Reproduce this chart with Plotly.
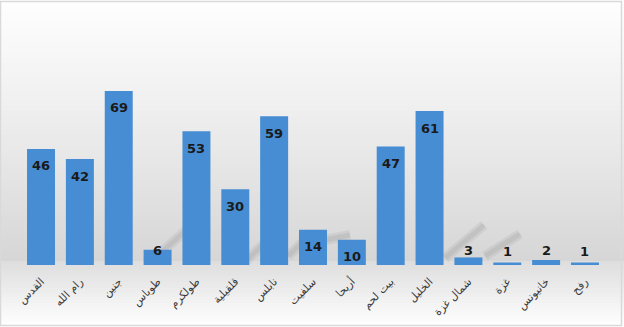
import plotly.graph_objects as go

categories = ["القدس", "رام الله", "جنين", "طوباس", "طولكرم", "قلقيلية", "نابلس", "سلفيت",
              "أريحا", "بيت لحم", "الخليل", "شمال غزة", "غزة", "خانيونس", "رفح"]
values = [46, 42, 69, 6, 53, 30, 59, 14, 10, 47, 61, 3, 1, 2, 1]

W, H = 624, 327
base_px = 265
top_px = 20
ymax = 97.1
px_per_unit = (base_px - top_px) / ymax

fig = go.Figure()
fig.add_trace(go.Bar(
    x=categories, y=values,
    marker=dict(color="#468dd3", line=dict(width=0)),
    width=0.72,
    hoverinfo="x+y",
))

def lerp(a, b, t):
    return int(round(a + (b - a) * t))

shapes = []
step = 3
for y0 in range(0, H, step):
    y1 = min(H, y0 + step)
    ym = (y0 + y1) / 2
    if ym < 262:
        t = ym / 262
        g = lerp(254, 214, t ** 1.1)
    else:
        t = (ym - 262) / (H - 262)
        g = lerp(222, 255, t)
    shapes.append(dict(type="rect", xref="paper", yref="paper", layer="below",
                       x0=0, x1=1, y0=1 - y1 / H, y1=1 - y0 / H,
                       line=dict(width=0), fillcolor=f"rgb({g},{g},{g})"))

# decorative soft diagonal background shadows (pixel coords)
streaks = [(155, 258, 192, 225), (245, 262, 278, 230), (288, 256, 310, 235),
           (325, 240, 350, 235), (445, 258, 484, 225), (485, 256, 520, 234)]
for (a, b, c, d) in streaks:
    for wdt, col in ((10, "rgba(110,110,110,0.10)"), (5, "rgba(110,110,110,0.12)")):
        shapes.append(dict(type="line", xref="paper", yref="paper", layer="below",
                           x0=a / W, y0=1 - b / H, x1=c / W, y1=1 - d / H,
                           line=dict(width=wdt, color=col)))

# border
shapes.append(dict(type="rect", xref="paper", yref="paper", layer="above",
                   x0=0.5 / W, x1=1 - 2.5 / W, y0=1.5 / H, y1=1 - 1.5 / H,
                   line=dict(width=1.5, color="#d9d9d9"), fillcolor="rgba(0,0,0,0)"))

annotations = []
for c, v in zip(categories, values):
    if v >= 10:
        ys = -17
    else:
        ys = 14 - v * px_per_unit
    annotations.append(dict(x=c, y=v, xref="x", yref="y", text=str(v), showarrow=False,
                            yanchor="middle", yshift=ys,
                            font=dict(family="DejaVu Sans", size=13, color="#1a1a1a", weight="bold")))

fig.update_layout(
    width=W, height=H,
    margin=dict(l=0, r=0, t=0, b=0),
    paper_bgcolor="white", plot_bgcolor="rgba(0,0,0,0)",
    shapes=shapes, annotations=annotations,
    showlegend=False,
    bargap=0.28,
    xaxis=dict(domain=[21.6 / W, 604.4 / W], tickangle=-45, showgrid=False, zeroline=False,
               showline=False, ticks="", automargin=False, ticklabelstandoff=7,
               tickfont=dict(family="DejaVu Sans", size=11, color="#3a3a3a")),
    yaxis=dict(domain=[1 - base_px / H, 1 - top_px / H], range=[0, ymax], visible=False,
               automargin=False, fixedrange=True),
)

fig.write_html("out.html")
